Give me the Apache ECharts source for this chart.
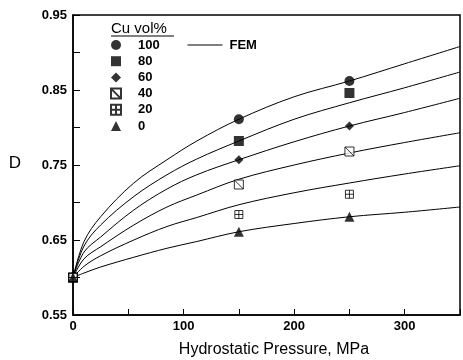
<!DOCTYPE html>
<html>
<head>
<meta charset="utf-8">
<script src="https://cdn.jsdelivr.net/npm/echarts@6/dist/echarts.min.js"></script>
<style>
  html, body { margin: 0; padding: 0; background: #fff; }
  #chart { width: 463px; height: 360px; }
</style>
</head>
<body>
<div id="chart"></div>
<script>
// measured points (x = hydrostatic pressure, MPa)
const pressure = [0, 150, 250];
const cu100 = [0.600, 0.811, 0.862];
const cu80 = [0.600, 0.782, 0.846];
const cu60 = [0.600, 0.757, 0.802];
const cu40 = [0.600, 0.724, 0.768];
const cu20 = [0.600, 0.684, 0.711];
const cu0 = [0.600, 0.661, 0.681];

// FEM curves
const femX = [0, 10, 25, 55, 85, 112, 150, 200, 250, 300, 350];
const fem100 = [0.600, 0.648, 0.681, 0.726, 0.757, 0.782, 0.811, 0.841, 0.862, 0.885, 0.908];
const fem80 = [0.600, 0.642, 0.670, 0.708, 0.737, 0.758, 0.782, 0.811, 0.833, 0.853, 0.874];
const fem60 = [0.600, 0.634, 0.654, 0.690, 0.718, 0.737, 0.757, 0.781, 0.802, 0.820, 0.839];
const fem40 = [0.600, 0.625, 0.641, 0.670, 0.694, 0.710, 0.731, 0.750, 0.766, 0.780, 0.793];
const fem20 = [0.600, 0.615, 0.629, 0.650, 0.668, 0.680, 0.697, 0.713, 0.726, 0.738, 0.749];
const fem0 = [0.600, 0.606, 0.614, 0.627, 0.639, 0.648, 0.661, 0.672, 0.681, 0.687, 0.694];

const seriesNames = ['100', '80', '60', '40', '20', '0'];
const yTicks = [0.55, 0.65, 0.75, 0.85, 0.95];
const xTicks = [0, 100, 200, 300];

const font = "'Liberation Sans', Arial, sans-serif";
const slashBox = 'path://M0,0L10,0L10,10L0,10Z M0,0L10,10';
const crossBox = 'path://M0,0L10,0L10,10L0,10Z M5,0L5,10 M0,5L10,5';

const pairs = (xs, ys) => xs.map((x, i) => [x, ys[i]]);

const measured = [cu100, cu80, cu60, cu40, cu20, cu0];
const fem = [fem100, fem80, fem60, fem40, fem20, fem0];
const marks = [
    { symbol: 'circle', size: 10, fill: '#000' },
    { symbol: 'rect', size: 10, fill: '#000' },
    { symbol: 'diamond', size: 9, fill: '#000' },
    { symbol: slashBox, size: 9, fill: '#fff' },
    { symbol: crossBox, size: 8, fill: '#fff' },
    { symbol: 'triangle', size: 10, fill: '#000' }
];

const myChart = echarts.init(document.getElementById('chart'));

const series = [];
fem.forEach((ys) => {
    series.push({
        name: 'FEM',
        type: 'line',
        symbol: 'none',
        smooth: 0.35,
        z: 1,
        itemStyle: { color: '#000' },
        lineStyle: { color: '#000', width: 1 },
        data: pairs(femX, ys)
    });
});
measured.forEach((ys, i) => {
    const m = marks[i];
    series.push({
        name: seriesNames[i],
        type: 'scatter',
        symbol: m.symbol,
        symbolSize: m.size,
        z: 3,
        itemStyle: {
            color: m.fill,
            borderColor: '#000',
            borderWidth: m.fill === '#fff' ? 1 : 0
        },
        data: pairs(pressure, ys)
    });
});

const option = {
    animation: false,
    backgroundColor: '#fff',
    grid: {
        left: 73,
        top: 15,
        width: 395.5,
        height: 300,
        show: true,
        borderColor: '#000',
        borderWidth: 1.5
    },
    legend: [
        {
            orient: 'vertical',
            left: 110,
            top: 37,
            padding: 0,
            itemWidth: 10,
            itemHeight: 10,
            itemGap: 0.2,
            selectedMode: false,
            data: seriesNames,
            textStyle: {
                color: '#000',
                fontFamily: font,
                fontWeight: 'bold',
                fontSize: 13,
                lineHeight: 16,
                padding: [0, 0, 0, 12]
            }
        },
        {
            left: 187,
            top: 37,
            padding: 0,
            itemWidth: 35,
            itemHeight: 10,
            selectedMode: false,
            data: ['FEM'],
            itemStyle: { opacity: 0 },
            lineStyle: { color: '#000', width: 1, opacity: 1 },
            textStyle: {
                color: '#000',
                fontFamily: font,
                fontWeight: 'bold',
                fontSize: 13,
                lineHeight: 16,
                padding: [0, 0, 0, 2]
            }
        }
    ],
    xAxis: {
        type: 'value',
        min: 0,
        max: 350,
        interval: 50,
        axisLine: { lineStyle: { color: '#000', width: 1.5 } },
        axisTick: { inside: true, length: 6, lineStyle: { color: '#000' } },
        splitLine: { show: false },
        axisLabel: {
            margin: 5,
            color: '#000',
            fontFamily: font,
            fontWeight: 'bold',
            fontSize: 13,
            formatter: (v) => (xTicks.includes(v) ? String(v) : '')
        }
    },
    yAxis: {
        type: 'value',
        min: 0.55,
        max: 0.95,
        interval: 0.05,
        axisLine: { lineStyle: { color: '#000', width: 1.5 } },
        axisTick: { inside: true, length: 7, lineStyle: { color: '#000' } },
        splitLine: { show: false },
        axisLabel: {
            margin: 6,
            color: '#000',
            fontFamily: font,
            fontWeight: 'bold',
            fontSize: 13,
            formatter: (v) => {
                const hit = yTicks.find((t) => Math.abs(t - v) < 1e-6);
                return hit !== undefined ? hit.toFixed(2) : '';
            }
        }
    },
    graphic: [
        {
            type: 'text',
            left: 111,
            top: 21,
            style: { text: 'Cu vol%', fill: '#000', font: '15px ' + font }
        },
        {
            type: 'line',
            shape: { x1: 111, y1: 36, x2: 174, y2: 36 },
            style: { stroke: '#000', lineWidth: 1 }
        },
        {
            type: 'text',
            x: 15,
            y: 163,
            style: { text: 'D', fill: '#000', font: '17px ' + font, align: 'center', verticalAlign: 'middle' }
        },
        {
            type: 'text',
            x: 274,
            y: 350,
            style: { text: 'Hydrostatic Pressure, MPa', fill: '#000', font: '16px ' + font, align: 'center', verticalAlign: 'middle' }
        }
    ],
    series: series
};

myChart.setOption(option);
window.addEventListener('resize', () => myChart.resize());
</script>
</body>
</html>
